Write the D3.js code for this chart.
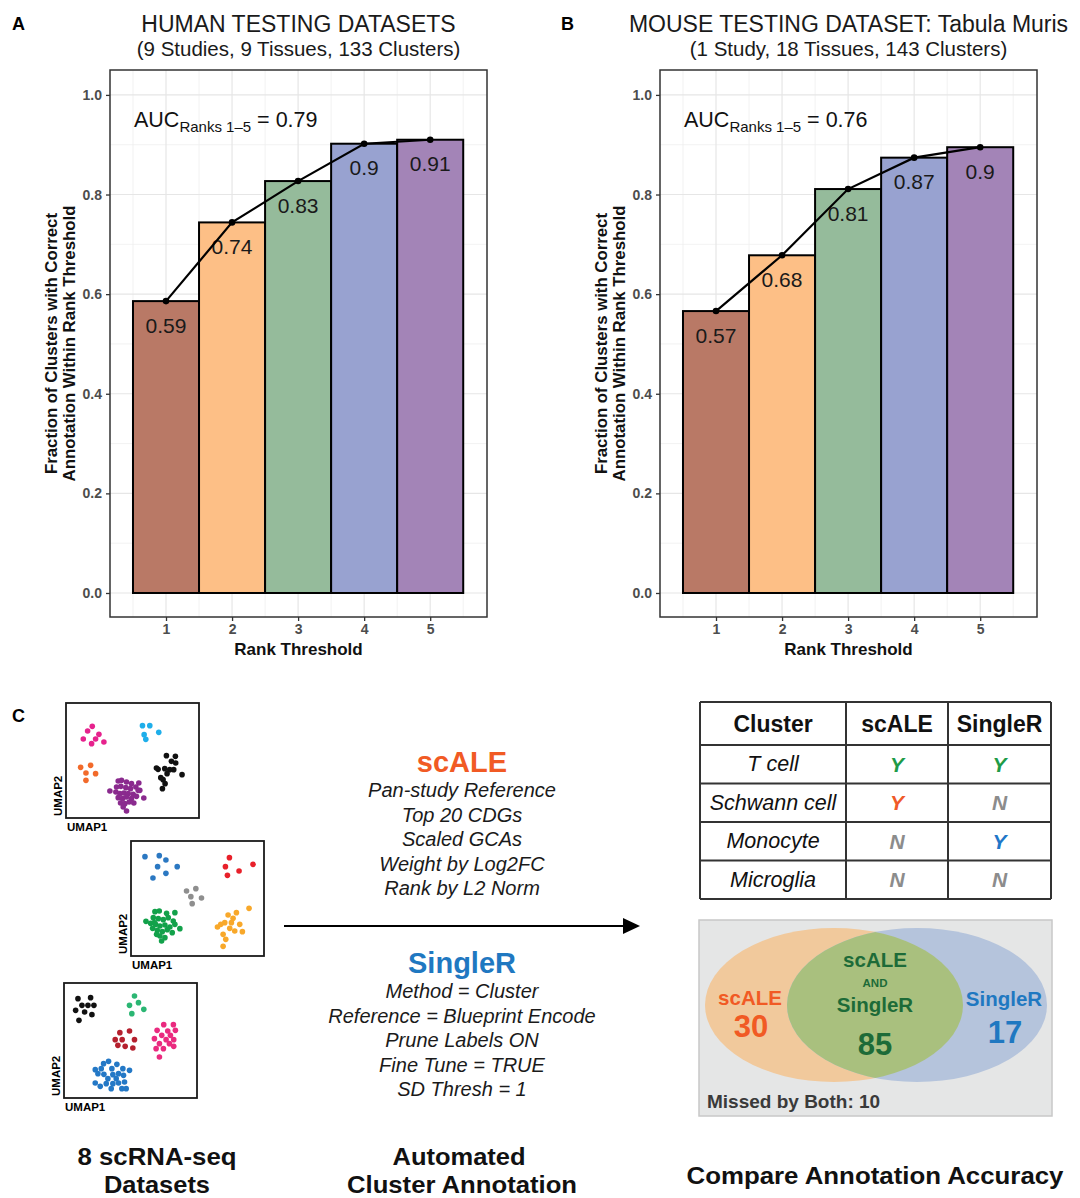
<!DOCTYPE html>
<html>
<head>
<meta charset="utf-8">
<script src="https://cdn.jsdelivr.net/npm/d3@7/dist/d3.min.js"></script>
<style>
  body { margin: 0; background: #fff; }
  svg { display: block; font-family: "Liberation Sans", Arial, Helvetica, sans-serif; }
</style>
</head>
<body>
<div id="fig"></div>
<script>
// ---- data ----
var ranks = [1, 2, 3, 4, 5];
var humanFrac = [0.586, 0.744, 0.827, 0.902, 0.910];
var mouseFrac = [0.566, 0.678, 0.811, 0.874, 0.895];
var humanAuc = 0.79;
var mouseAuc = 0.76;
var yTicks = [0, 0.2, 0.4, 0.6, 0.8, 1.0];
var rankColors = ['#b97966', '#fdbf86', '#95bb9b', '#98a2d0', '#a384b7'];

var scaleParams = ['Pan-study Reference', 'Top 20 CDGs', 'Scaled GCAs', 'Weight by Log2FC', 'Rank by L2 Norm'];
var singlerParams = ['Method = Cluster', 'Reference = Blueprint Encode', 'Prune Labels ON', 'Fine Tune = TRUE', 'SD Thresh = 1'];

var tableClusters = ['T cell', 'Schwann cell', 'Monocyte', 'Microglia'];
var scaleCalls = ['Y', 'Y', 'N', 'N'];
var singlerCalls = ['Y', 'N', 'Y', 'N'];

var vennNames = ['scALE', 'SingleR'];
var vennCounts = [30, 85, 17]; // scALE only, both, SingleR only
var missedBoth = 10;

// umap scatter examples (arbitrary umap units), one list per cluster
var umapA = [
  [[79,70],[65,84],[99,94],[52,108],[89,108],[114,117],[77,122]],
  [[230,68],[252,68],[235,95],[240,109],[279,88]],
  [[44,193],[74,187],[60,210],[89,212],[60,232]],
  [[302,158],[329,160],[317,175],[277,199],[297,197],[330,180],[312,200],[304,212],[285,224],[292,230],[349,215],[298,242],[290,257],[272,195],[324,200]],
  [[132,264],[157,234],[167,232],[182,237],[197,242],[219,240],[152,252],[165,250],[180,254],[194,257],[210,252],[222,262],[150,267],[162,272],[174,270],[187,272],[202,274],[234,285],[157,284],[170,287],[182,282],[197,287],[212,280],[164,300],[177,302],[190,297],[204,300],[182,324],[172,312],[217,262]]
];
var umapB = [
  [[42,47],[85,44],[105,57],[80,77],[139,77],[105,97],[66,111]],
  [[296,50],[367,70],[284,77],[325,90],[290,103]],
  [[167,150],[195,143],[180,167],[212,171],[184,188]],
  [[45,241],[72,212],[85,210],[107,217],[132,215],[67,230],[82,233],[97,236],[112,230],[127,240],[59,247],[74,250],[87,255],[102,252],[117,258],[147,263],[65,262],[79,268],[94,272],[109,266],[124,275],[87,285],[102,290],[77,280],[92,300],[132,250],[70,245]],
  [[355,202],[317,215],[292,222],[307,232],[260,258],[282,245],[297,262],[312,270],[335,272],[277,280],[285,295],[277,316],[327,250],[270,250],[302,245]]
];
var umapC = [
  [[42,47],[80,44],[35,82],[54,67],[72,67],[90,67],[62,87],[84,95],[45,112]],
  [[212,39],[197,67],[224,59],[240,79],[204,92]],
  [[168,149],[197,144],[154,170],[175,170],[212,170],[162,187],[184,190],[207,195]],
  [[300,125],[329,125],[280,142],[312,144],[335,142],[294,157],[320,157],[272,167],[307,170],[330,170],[287,182],[317,182],[299,197],[330,190],[287,222],[277,197]],
  [[134,235],[119,242],[159,244],[94,260],[112,257],[144,257],[177,257],[197,262],[102,272],[120,274],[147,275],[164,272],[179,277],[94,300],[109,310],[127,302],[147,302],[164,300],[182,297],[142,317],[174,317],[187,317],[132,287],[157,287]]
];
var umapColorsA = ['#e6228d', '#1eaeea', '#f26a2a', '#111111', '#8a2a8e'];
var umapColorsB = ['#2b78c2', '#e8202a', '#8e8e8e', '#12a14a', '#f8a82a'];
var umapColorsC = ['#111111', '#2bb673', '#b5202e', '#ea2a7f', '#2378c6'];

// ---- figure ----
var W = 1080, H = 1198;
var svg = d3.select('#fig').append('svg').attr('width', W).attr('height', H);

function panelLetter(txt, x, y) {
    svg.append('text').attr('x', x).attr('y', y)
        .attr('font-size', 18).attr('font-weight', 'bold').text(txt);
}

/**
 * rank threshold bar chart (panels A and B)
 */
function drawRankPanel(cfg) {
    var top = 70, bottom = 617;
    var x = d3.scaleLinear().domain([0.152, 5.86]).range([cfg.left, cfg.right]);
    var y = d3.scaleLinear().domain([-0.0482, 1.05]).range([bottom, top]);
    var g = svg.append('g');
    var mid = (cfg.left + cfg.right) / 2;

    g.append('text').attr('x', mid).attr('y', 32).attr('text-anchor', 'middle')
        .attr('font-size', 23).attr('fill', '#1a1a1a').text(cfg.title);
    g.append('text').attr('x', mid).attr('y', 56).attr('text-anchor', 'middle')
        .attr('font-size', 20.5).attr('fill', '#1a1a1a').text(cfg.subtitle);

    // grid
    var minorY = d3.range(0.1, 1.0, 0.2);
    var minorX = d3.range(0.5, 6, 1);
    g.selectAll('.gy-minor').data(minorY).enter().append('line')
        .attr('x1', cfg.left).attr('x2', cfg.right)
        .attr('y1', function (d) { return y(d); }).attr('y2', function (d) { return y(d); })
        .attr('stroke', '#efefef').attr('stroke-width', 0.8);
    g.selectAll('.gx-minor').data(minorX).enter().append('line')
        .attr('y1', top).attr('y2', bottom)
        .attr('x1', function (d) { return x(d); }).attr('x2', function (d) { return x(d); })
        .attr('stroke', '#efefef').attr('stroke-width', 0.8);
    g.selectAll('.gy-major').data(yTicks).enter().append('line')
        .attr('x1', cfg.left).attr('x2', cfg.right)
        .attr('y1', function (d) { return y(d); }).attr('y2', function (d) { return y(d); })
        .attr('stroke', '#e6e6e6').attr('stroke-width', 1.2);
    g.selectAll('.gx-major').data(ranks).enter().append('line')
        .attr('y1', top).attr('y2', bottom)
        .attr('x1', function (d) { return x(d); }).attr('x2', function (d) { return x(d); })
        .attr('stroke', '#e6e6e6').attr('stroke-width', 1.2);

    var rows = ranks.map(function (r, i) { return { r: r, v: cfg.values[i] }; });

    g.selectAll('.bar').data(rows).enter().append('rect')
        .attr('x', function (d) { return x(d.r - 0.5); })
        .attr('width', function (d) { return x(d.r + 0.5) - x(d.r - 0.5); })
        .attr('y', function (d) { return y(d.v); })
        .attr('height', function (d) { return y(0) - y(d.v); })
        .attr('fill', function (d, i) { return rankColors[i]; })
        .attr('stroke', '#000').attr('stroke-width', 2);

    var fmt = d3.format('.2~f');
    g.selectAll('.val').data(rows).enter().append('text')
        .attr('x', function (d) { return x(d.r); })
        .attr('y', function (d) { return y(d.v) + 24; })
        .attr('text-anchor', 'middle').attr('dominant-baseline', 'central')
        .attr('font-size', 21).attr('fill', '#1a1a1a')
        .text(function (d) { return fmt(d.v); });

    var line = d3.line().x(function (d) { return x(d.r); }).y(function (d) { return y(d.v); });
    g.append('path').datum(rows).attr('d', line)
        .attr('fill', 'none').attr('stroke', '#000').attr('stroke-width', 2.2);
    g.selectAll('.pt').data(rows).enter().append('circle')
        .attr('cx', function (d) { return x(d.r); }).attr('cy', function (d) { return y(d.v); })
        .attr('r', 3.3).attr('fill', '#000');

    var auc = g.append('text').attr('x', cfg.left + 24).attr('y', 127)
        .attr('font-size', 21.5).attr('fill', '#111');
    auc.append('tspan').text('AUC');
    auc.append('tspan').attr('font-size', 15).attr('dy', 5).text('Ranks 1–5');
    auc.append('tspan').attr('dy', -5).text(' = ' + cfg.auc.toFixed(2));

    // border
    g.append('rect').attr('x', cfg.left).attr('y', top)
        .attr('width', cfg.right - cfg.left).attr('height', bottom - top)
        .attr('fill', 'none').attr('stroke', '#333').attr('stroke-width', 1.5);

    var ay = g.append('g').attr('transform', 'translate(' + cfg.left + ',0)')
        .call(d3.axisLeft(y).tickValues(yTicks).tickFormat(d3.format('.1f')).tickSize(4).tickPadding(4));
    var ax = g.append('g').attr('transform', 'translate(0,' + bottom + ')')
        .call(d3.axisBottom(x).tickValues(ranks).tickFormat(d3.format('d')).tickSize(4).tickPadding(3));
    [ax, ay].forEach(function (a) {
        a.select('.domain').remove();
        a.selectAll('line').attr('stroke', '#333').attr('stroke-width', 1.3);
        a.selectAll('text').attr('font-size', 14).attr('font-weight', 'bold')
            .attr('fill', '#4d4d4d').attr('font-family', '"Liberation Sans", Arial, sans-serif');
    });

    g.append('text').attr('x', mid).attr('y', 655).attr('text-anchor', 'middle')
        .attr('font-size', 17).attr('font-weight', 'bold').attr('fill', '#111').text('Rank Threshold');

    var yt = ['Fraction of Clusters with Correct', 'Annotation Within Rank Threshold'];
    yt.forEach(function (t, i) {
        g.append('text')
            .attr('transform', 'translate(' + (cfg.left - 59 + i * 18) + ',' + ((top + bottom) / 2) + ') rotate(-90)')
            .attr('text-anchor', 'middle').attr('dominant-baseline', 'central')
            .attr('font-size', 16.8).attr('font-weight', 'bold').attr('fill', '#111').text(t);
    });
}

panelLetter('A', 12, 30);
panelLetter('B', 561, 30);
panelLetter('C', 12, 722);

drawRankPanel({ left: 110, right: 487, values: humanFrac, auc: humanAuc,
    title: 'HUMAN TESTING DATASETS', subtitle: '(9 Studies, 9 Tissues, 133 Clusters)' });
drawRankPanel({ left: 660, right: 1037, values: mouseFrac, auc: mouseAuc,
    title: 'MOUSE TESTING DATASET: Tabula Muris', subtitle: '(1 Study, 18 Tissues, 143 Clusters)' });

/**
 * small umap thumbnail
 */
function drawUmap(clusters, colors, box) {
    var x = d3.scaleLinear().domain([0, 400]).range([box.x, box.x + 133]);
    var y = d3.scaleLinear().domain([0, 345]).range([box.y, box.y + 115]);
    var g = svg.append('g');
    clusters.forEach(function (pts, ci) {
        g.selectAll(null).data(pts).enter().append('circle')
            .attr('cx', function (d) { return x(d[0]); })
            .attr('cy', function (d) { return y(d[1]); })
            .attr('r', 2.8).attr('fill', colors[ci]);
    });
    g.append('rect').attr('x', box.x).attr('y', box.y).attr('width', 133).attr('height', 115)
        .attr('fill', 'none').attr('stroke', '#1a1a1a').attr('stroke-width', 1.8);
    g.append('text').attr('x', box.x + 1).attr('y', box.y + 128)
        .attr('font-size', 11.5).attr('font-weight', 'bold').text('UMAP1');
    g.append('text')
        .attr('transform', 'translate(' + (box.x - 4) + ',' + (box.y + 113) + ') rotate(-90)')
        .attr('font-size', 11.5).attr('font-weight', 'bold').text('UMAP2');
}
drawUmap(umapA, umapColorsA, { x: 66, y: 703 });
drawUmap(umapB, umapColorsB, { x: 131, y: 841 });
drawUmap(umapC, umapColorsC, { x: 64, y: 983 });

// method descriptions + arrow
var cx = 462;
svg.append('text').attr('x', cx).attr('y', 772).attr('text-anchor', 'middle')
    .attr('font-size', 29).attr('font-weight', 'bold').attr('fill', '#f15a24').text('scALE');
svg.selectAll('.sp').data(scaleParams).enter().append('text')
    .attr('x', cx).attr('y', function (d, i) { return 797 + i * 24.6; })
    .attr('text-anchor', 'middle').attr('font-size', 20).attr('font-style', 'italic')
    .attr('fill', '#1a1a1a').text(function (d) { return d; });
svg.append('text').attr('x', cx).attr('y', 973).attr('text-anchor', 'middle')
    .attr('font-size', 29).attr('font-weight', 'bold').attr('fill', '#1f78c1').text('SingleR');
svg.selectAll('.rp').data(singlerParams).enter().append('text')
    .attr('x', cx).attr('y', function (d, i) { return 998 + i * 24.6; })
    .attr('text-anchor', 'middle').attr('font-size', 20).attr('font-style', 'italic')
    .attr('fill', '#1a1a1a').text(function (d) { return d; });

svg.append('line').attr('x1', 284).attr('x2', 626).attr('y1', 926).attr('y2', 926)
    .attr('stroke', '#000').attr('stroke-width', 2);
svg.append('path').attr('d', 'M623,918 L640,926 L623,934 Z').attr('fill', '#000');

// table
var colEdges = [700, 846, 948, 1051];
var headTop = 702, headBottom = 745, tableBottom = 899;
var rowY = d3.scaleBand().domain(tableClusters).range([headBottom, tableBottom]);
var tg = svg.append('g');
var header = ['Cluster', vennNames[0], vennNames[1]];
header.forEach(function (h, i) {
    tg.append('text').attr('x', (colEdges[i] + colEdges[i + 1]) / 2).attr('y', (headTop + headBottom) / 2)
        .attr('text-anchor', 'middle').attr('dominant-baseline', 'central')
        .attr('font-size', 23).attr('font-weight', 'bold').attr('fill', '#111').text(h);
});
function callColor(c, other, which) {
    if (c === 'N') return '#8c8c8c';
    if (other === 'Y') return '#1e9b48';
    return which === 0 ? '#f05a28' : '#1f77c8';
}
tableClusters.forEach(function (name, i) {
    var yc = rowY(name) + rowY.bandwidth() / 2;
    tg.append('text').attr('x', (colEdges[0] + colEdges[1]) / 2).attr('y', yc)
        .attr('text-anchor', 'middle').attr('dominant-baseline', 'central')
        .attr('font-size', 21.5).attr('font-style', 'italic').attr('fill', '#111').text(name);
    [scaleCalls[i], singlerCalls[i]].forEach(function (c, j) {
        var other = j === 0 ? singlerCalls[i] : scaleCalls[i];
        tg.append('text').attr('x', (colEdges[j + 1] + colEdges[j + 2]) / 2).attr('y', yc)
            .attr('text-anchor', 'middle').attr('dominant-baseline', 'central')
            .attr('font-size', 21).attr('font-style', 'italic').attr('font-weight', 'bold')
            .attr('fill', callColor(c, other, j)).text(c);
    });
});
tg.selectAll('.hl').data([headTop, headBottom].concat(tableClusters.map(function (d) { return rowY(d) + rowY.bandwidth(); })))
    .enter().append('line')
    .attr('x1', colEdges[0]).attr('x2', colEdges[3])
    .attr('y1', function (d) { return d; }).attr('y2', function (d) { return d; })
    .attr('stroke', '#333').attr('stroke-width', 2);
tg.selectAll('.vl').data(colEdges).enter().append('line')
    .attr('y1', headTop).attr('y2', tableBottom)
    .attr('x1', function (d) { return d; }).attr('x2', function (d) { return d; })
    .attr('stroke', '#333').attr('stroke-width', 2);

// venn
var vg = svg.append('g');
vg.append('rect').attr('x', 699).attr('y', 920).attr('width', 353).attr('height', 196)
    .attr('fill', '#e5e6e6').attr('stroke', '#c8c8c8').attr('stroke-width', 1.5);
var eA = { cx: 834, cy: 1005, rx: 129, ry: 77 };
var eB = { cx: 917, cy: 1005, rx: 130, ry: 77 };
vg.append('defs').append('clipPath').attr('id', 'clipA').append('ellipse')
    .attr('cx', eA.cx).attr('cy', eA.cy).attr('rx', eA.rx).attr('ry', eA.ry);
vg.append('ellipse').attr('cx', eA.cx).attr('cy', eA.cy).attr('rx', eA.rx).attr('ry', eA.ry).attr('fill', '#f1c99c');
vg.append('ellipse').attr('cx', eB.cx).attr('cy', eB.cy).attr('rx', eB.rx).attr('ry', eB.ry).attr('fill', '#b5c4dc');
vg.append('ellipse').attr('cx', eB.cx).attr('cy', eB.cy).attr('rx', eB.rx).attr('ry', eB.ry)
    .attr('fill', '#a9c07e').attr('clip-path', 'url(#clipA)');

function vtext(t, x, y, size, color) {
    vg.append('text').attr('x', x).attr('y', y).attr('text-anchor', 'middle')
        .attr('font-size', size).attr('font-weight', 'bold').attr('fill', color).text(t);
}
vtext(vennNames[0], 750, 1005, 20.5, '#f15a24');
vtext(vennCounts[0], 751, 1037, 31, '#f15a24');
vtext(vennNames[0], 875, 967, 20.5, '#1d6b38');
vtext('AND', 875, 987, 11.5, '#1d6b38');
vtext(vennNames[1], 875, 1012, 20.5, '#1d6b38');
vtext(vennCounts[1], 875, 1055, 31, '#1d6b38');
vtext(vennNames[1], 1004, 1006, 20.5, '#1f78c1');
vtext(vennCounts[2], 1005, 1043, 31, '#1f78c1');
vg.append('text').attr('x', 707).attr('y', 1108).attr('font-size', 19).attr('font-weight', 'bold')
    .attr('fill', '#3a3a3a').text('Missed by Both: ' + missedBoth);

// step captions
function caption(t, x, y, len) {
    svg.append('text').attr('x', x).attr('y', y).attr('text-anchor', 'middle')
        .attr('font-family', '"Liberation Sans Narrow", "Liberation Sans", Arial, sans-serif')
        .attr('font-size', 24).attr('font-weight', 'bold').attr('fill', '#111')
        .attr('textLength', len).attr('lengthAdjust', 'spacingAndGlyphs').text(t);
}
caption('8 scRNA-seq', 157, 1165, 159);
caption('Datasets', 157, 1193, 106);
caption('Automated', 459, 1165, 133);
caption('Cluster Annotation', 462, 1193, 230);
caption('Compare Annotation Accuracy', 875, 1184, 377);
</script>
</body>
</html>
